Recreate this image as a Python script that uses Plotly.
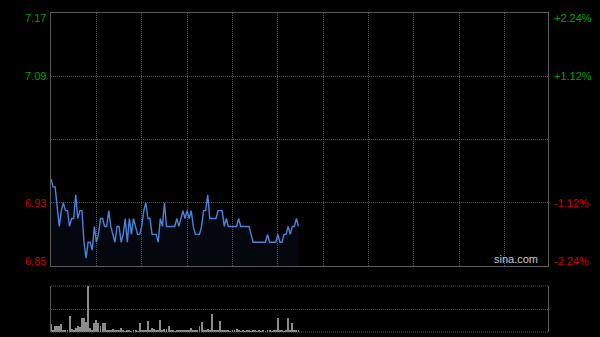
import plotly.graph_objects as go

# minute index within the trading day (0 = 09:30), morning session only
minutes = list(range(121))

price = [6.96, 6.95, 6.95, 6.92, 6.90, 6.92, 6.93, 6.92, 6.92, 6.90,
         6.91, 6.91, 6.94, 6.91, 6.92, 6.92, 6.88, 6.86, 6.88, 6.88,
         6.87, 6.90, 6.88, 6.89, 6.91, 6.91, 6.90, 6.90, 6.92, 6.90,
         6.89, 6.88, 6.90, 6.90, 6.88, 6.89, 6.91, 6.88, 6.91, 6.89,
         6.91, 6.90, 6.89, 6.89, 6.90, 6.92, 6.93, 6.91, 6.91, 6.89,
         6.89, 6.89, 6.88, 6.91, 6.90, 6.93, 6.90, 6.90, 6.90, 6.90,
         6.90, 6.91, 6.90, 6.91, 6.92, 6.91, 6.92, 6.91, 6.92, 6.90,
         6.89, 6.89, 6.89, 6.90, 6.92, 6.92, 6.94, 6.91, 6.91, 6.91,
         6.91, 6.92, 6.92, 6.92, 6.90, 6.91, 6.90, 6.90, 6.90, 6.90,
         6.90, 6.91, 6.90, 6.90, 6.90, 6.90, 6.90, 6.89, 6.88, 6.88,
         6.88, 6.88, 6.88, 6.88, 6.88, 6.89, 6.88, 6.88, 6.88, 6.88,
         6.89, 6.88, 6.88, 6.89, 6.89, 6.90, 6.89, 6.90, 6.90, 6.91,
         6.90]

volume = [17, 5, 13, 12, 12, 17, 5, 4, 5, 35,
          6, 4, 8, 14, 11, 30, 30, 21, 100, 8,
          4, 19, 25, 19, 12, 20, 19, 4, 3, 5,
          6, 3, 4, 3, 8, 3, 2, 4, 3, 2,
          4, 3, 2, 20, 3, 5, 3, 24, 4, 8,
          6, 3, 4, 25, 3, 6, 6, 12, 3, 4,
          2, 3, 4, 3, 4, 3, 5, 3, 9, 3,
          4, 3, 14, 21, 4, 3, 6, 5, 40, 5,
          3, 4, 24, 4, 3, 5, 3, 2, 3, 4,
          6, 3, 2, 3, 2, 4, 3, 2, 3, 4,
          2, 3, 2, 3, 2, 4, 3, 2, 3, 4,
          30, 3, 4, 2, 3, 30, 5, 20, 4, 3,
          3]

price_ticks = [7.17, 7.09, 6.93, 6.85]
price_tick_text = ["7.17", "7.09", "6.93", "6.85"]
pct_tick_text = ["+2.24%", "+1.12%", "-1.12%", "-2.24%"]
tick_colors = ["#00a000", "#00a000", "#cc0000", "#cc0000"]
edge_shift = [-5, 0, 0, 5]

y_min, y_mid, y_max = 6.85, 7.01, 7.17
x_range = [0, 241]
x_grid = list(range(22, 241, 22))

fig = go.Figure()

fig.add_trace(go.Scatter(
    x=minutes, y=price, mode="lines",
    line=dict(color="#4a82dc", width=1.4),
    fill="tozeroy", fillcolor="rgba(40,70,140,0.10)",
    xaxis="x", yaxis="y", hoverinfo="skip"))

fig.add_trace(go.Bar(
    x=minutes, y=volume, width=0.45,
    marker=dict(color="#8c8c8c", line=dict(width=0)),
    xaxis="x2", yaxis="y2", hoverinfo="skip"))

grid_col = "#555555"
border_col = "#5a5a5a"
dash = "1px,1px"

fig.update_layout(
    width=600, height=337,
    margin=dict(l=51, r=52, t=13, b=5),
    paper_bgcolor="#000000", plot_bgcolor="#000000",
    showlegend=False,
    bargap=0,
    xaxis=dict(domain=[0, 1], range=x_range, tickvals=x_grid, showticklabels=False,
               showgrid=True, gridcolor=grid_col, griddash=dash, gridwidth=1,
               showline=True, linecolor=border_col, linewidth=1, mirror=True,
               zeroline=False, ticks="", anchor="y"),
    yaxis=dict(domain=[0.207, 1], range=[y_min, y_max],
               tickvals=[7.09, y_mid, 6.93], showticklabels=False,
               showgrid=True, gridcolor=grid_col, griddash=dash, gridwidth=1,
               showline=True, linecolor=border_col, linewidth=1, mirror=True,
               zeroline=False, ticks="", anchor="x"),
    xaxis2=dict(domain=[0, 1], range=x_range, showticklabels=False, showgrid=False,
                showline=False, zeroline=False, ticks="", anchor="y2"),
    yaxis2=dict(domain=[0, 0.144], range=[0, 100], tickvals=[50],
                showticklabels=False, showgrid=True, gridcolor=grid_col,
                griddash=dash, gridwidth=1,
                showline=True, linecolor=border_col, linewidth=1, mirror=True,
                zeroline=False, ticks="", anchor="x2"),
)

# dotted top / bottom frame lines of the volume panel
for yy in (0, 1):
    fig.add_shape(type="line", xref="x2 domain", yref="y2 domain",
                  x0=0, x1=1, y0=yy, y1=yy,
                  line=dict(color=grid_col, width=1, dash=dash), layer="above")

font_family = "Liberation Sans, Arial, sans-serif"
for val, txt, pct, col, sh in zip(price_ticks, price_tick_text, pct_tick_text,
                                  tick_colors, edge_shift):
    fig.add_annotation(x=0, xref="paper", y=val, yref="y", text=txt,
                       showarrow=False, xanchor="right", yanchor="middle",
                       xshift=-3, yshift=sh,
                       font=dict(family=font_family, size=11, color=col))
    fig.add_annotation(x=1, xref="paper", y=val, yref="y", text=pct,
                       showarrow=False, xanchor="left", yanchor="middle",
                       xshift=4, yshift=sh,
                       font=dict(family=font_family, size=11, color=col))

fig.add_annotation(x=0.98, xref="paper", y=y_min, yref="y", text="sina.com",
                   showarrow=False, xanchor="right", yanchor="bottom", yshift=-1,
                   xshift=2,
                   font=dict(family=font_family, size=11, color="#c8c8c8"))

fig.write_html("out.html")
